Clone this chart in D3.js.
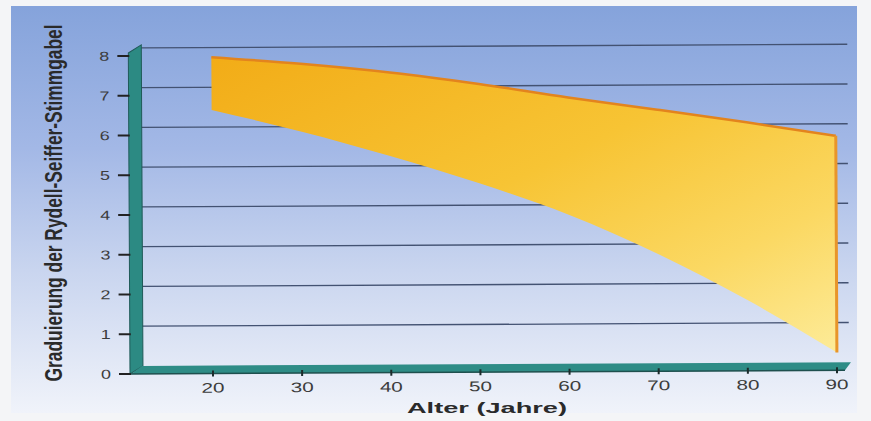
<!DOCTYPE html>
<html><head><meta charset="utf-8">
<script src="https://cdn.jsdelivr.net/npm/d3@7"></script>
<style>html,body{margin:0;padding:0;background:#f4f5f7;}svg{display:block;}</style>
</head><body>
<script>
// ---- data ----
const ages = [20, 30, 40, 50, 60, 70, 80, 90];
const upperValues = [7.96, 7.78, 7.55, 7.25, 6.9, 6.58, 6.25, 5.9];
const lowerValues = [6.63, 6.08, 5.45, 4.75, 3.95, 2.95, 1.78, 0.45];
const xTicks = [20, 30, 40, 50, 60, 70, 80, 90];
const yTicks = [0, 1, 2, 3, 4, 5, 6, 7, 8];
const xTitle = "Alter (Jahre)";
const yTitle = "Graduierung der Rydell-Seiffer-Stimmgabel";

const W = 871, H = 421;
const svg = d3.select("body").append("svg").attr("width", W).attr("height", H);
const defs = svg.append("defs");

const bg = defs.append("linearGradient").attr("id", "bg").attr("x1", 0).attr("y1", 0).attr("x2", 0).attr("y2", 1);
[[0, "#85a3db"], [0.35, "#a3b8e6"], [0.65, "#c9d5ef"], [1, "#f0f3fa"]].forEach(s => bg.append("stop").attr("offset", s[0]).attr("stop-color", s[1]));

const bandG = defs.append("linearGradient").attr("id", "band").attr("x1", 0).attr("y1", 0).attr("x2", 1).attr("y2", 1);
[[0, "#f2ac17"], [0.45, "#f7c434"], [0.75, "#fbd862"], [1, "#fdeb98"]].forEach(s => bandG.append("stop").attr("offset", s[0]).attr("stop-color", s[1]));

svg.append("rect").attr("x", 11).attr("y", 6).attr("width", 846).attr("height", 407).attr("fill", "url(#bg)");

// scales (front plane)
const x = d3.scaleLinear().domain([20, 90]).range([213, 837]);
const y = d3.scaleLinear().domain([0, 8]).range([374, 56]);
const depthX = 11, depthY = -8;
const xLeft = 131, xRightBack = 849;

const plot = svg.append("g").attr("transform", "rotate(-0.3, 131, 374)");

// gridlines on back plane
plot.append("g").selectAll("line").data(yTicks.filter(d => d > 0)).join("line")
  .attr("x1", xLeft + depthX).attr("x2", xRightBack)
  .attr("y1", d => y(d) + depthY).attr("y2", d => y(d) + depthY)
  .attr("stroke", "#435272").attr("stroke-width", 1.3);

// left wall
plot.append("path")
  .attr("d", `M${xLeft - 1},${y(8) - 3} L${xLeft + depthX + 1},${y(8) + depthY - 3} L${xLeft + depthX + 1},${y(0) + depthY} L${xLeft - 1},${y(0)} Z`)
  .attr("fill", "#2c8a83").attr("stroke", "#1f5a58").attr("stroke-width", 1);

// floor
plot.append("path")
  .attr("d", `M${xLeft},${y(0)} L${xLeft + depthX},${y(0) + depthY} L${xRightBack + 2},${y(0) + depthY} L${xRightBack - 4},${y(0)} Z`)
  .attr("fill", "#2e8c86");
plot.append("line").attr("x1", xLeft).attr("x2", xRightBack - 4).attr("y1", y(0)).attr("y2", y(0))
  .attr("stroke", "#1e4f4e").attr("stroke-width", 1.5);

// band
const data = ages.map((a, i) => ({a, hi: upperValues[i], lo: lowerValues[i]}));
const area = d3.area().x(d => x(d.a)).y0(d => y(d.lo)).y1(d => y(d.hi)).curve(d3.curveMonotoneX);
plot.append("path").datum(data).attr("d", area).attr("fill", "url(#band)");
const topLine = d3.line().x(d => x(d.a)).y(d => y(d.hi)).curve(d3.curveMonotoneX);
plot.append("path").datum(data).attr("d", topLine).attr("fill", "none").attr("stroke", "#e3841d").attr("stroke-width", 2.5);
const last = data[data.length - 1];
plot.append("line").attr("x1", x(last.a)).attr("x2", x(last.a)).attr("y1", y(last.hi)).attr("y2", y(last.lo))
  .attr("stroke", "#e8952a").attr("stroke-width", 3);

// y ticks
plot.append("g").selectAll("line").data(yTicks).join("line")
  .attr("x1", 119).attr("x2", xLeft).attr("y1", d => y(d)).attr("y2", d => y(d))
  .attr("stroke", "#222").attr("stroke-width", 2);
plot.append("g").selectAll("text").data(yTicks).join("text")
  .attr("x", 106).attr("y", d => y(d) + 4.5).attr("text-anchor", "middle")
  .attr("font-family", "Liberation Sans, Arial, sans-serif").attr("font-size", 13)
  .attr("fill", "#3c3c3c").attr("textLength", 10).attr("lengthAdjust", "spacingAndGlyphs")
  .text(d => d);

// x ticks
plot.append("g").selectAll("line").data(xTicks).join("line")
  .attr("x1", d => x(d)).attr("x2", d => x(d)).attr("y1", 371).attr("y2", 377)
  .attr("stroke", "#1c2b2b").attr("stroke-width", 2);
plot.append("g").selectAll("text").data(xTicks).join("text")
  .attr("x", d => x(d)).attr("y", 393).attr("text-anchor", "middle")
  .attr("font-family", "Liberation Sans, Arial, sans-serif").attr("font-size", 14)
  .attr("fill", "#3c3c3c").attr("textLength", 23).attr("lengthAdjust", "spacingAndGlyphs")
  .text(d => d);

// titles
svg.append("text").attr("x", 487).attr("y", 413).attr("text-anchor", "middle")
  .attr("font-family", "Liberation Sans, Arial, sans-serif").attr("font-size", 15).attr("font-weight", "bold")
  .attr("fill", "#2a2a2a").attr("textLength", 160).attr("lengthAdjust", "spacingAndGlyphs")
  .text(xTitle);

svg.append("text").attr("transform", "translate(62,203) scale(1.55,1) rotate(-90)")
  .attr("text-anchor", "middle")
  .attr("font-family", "Liberation Sans, Arial, sans-serif").attr("font-size", 16).attr("font-weight", "bold")
  .attr("fill", "#2a2a2a").attr("textLength", 357).attr("lengthAdjust", "spacingAndGlyphs")
  .text(yTitle);
</script>
</body></html>
